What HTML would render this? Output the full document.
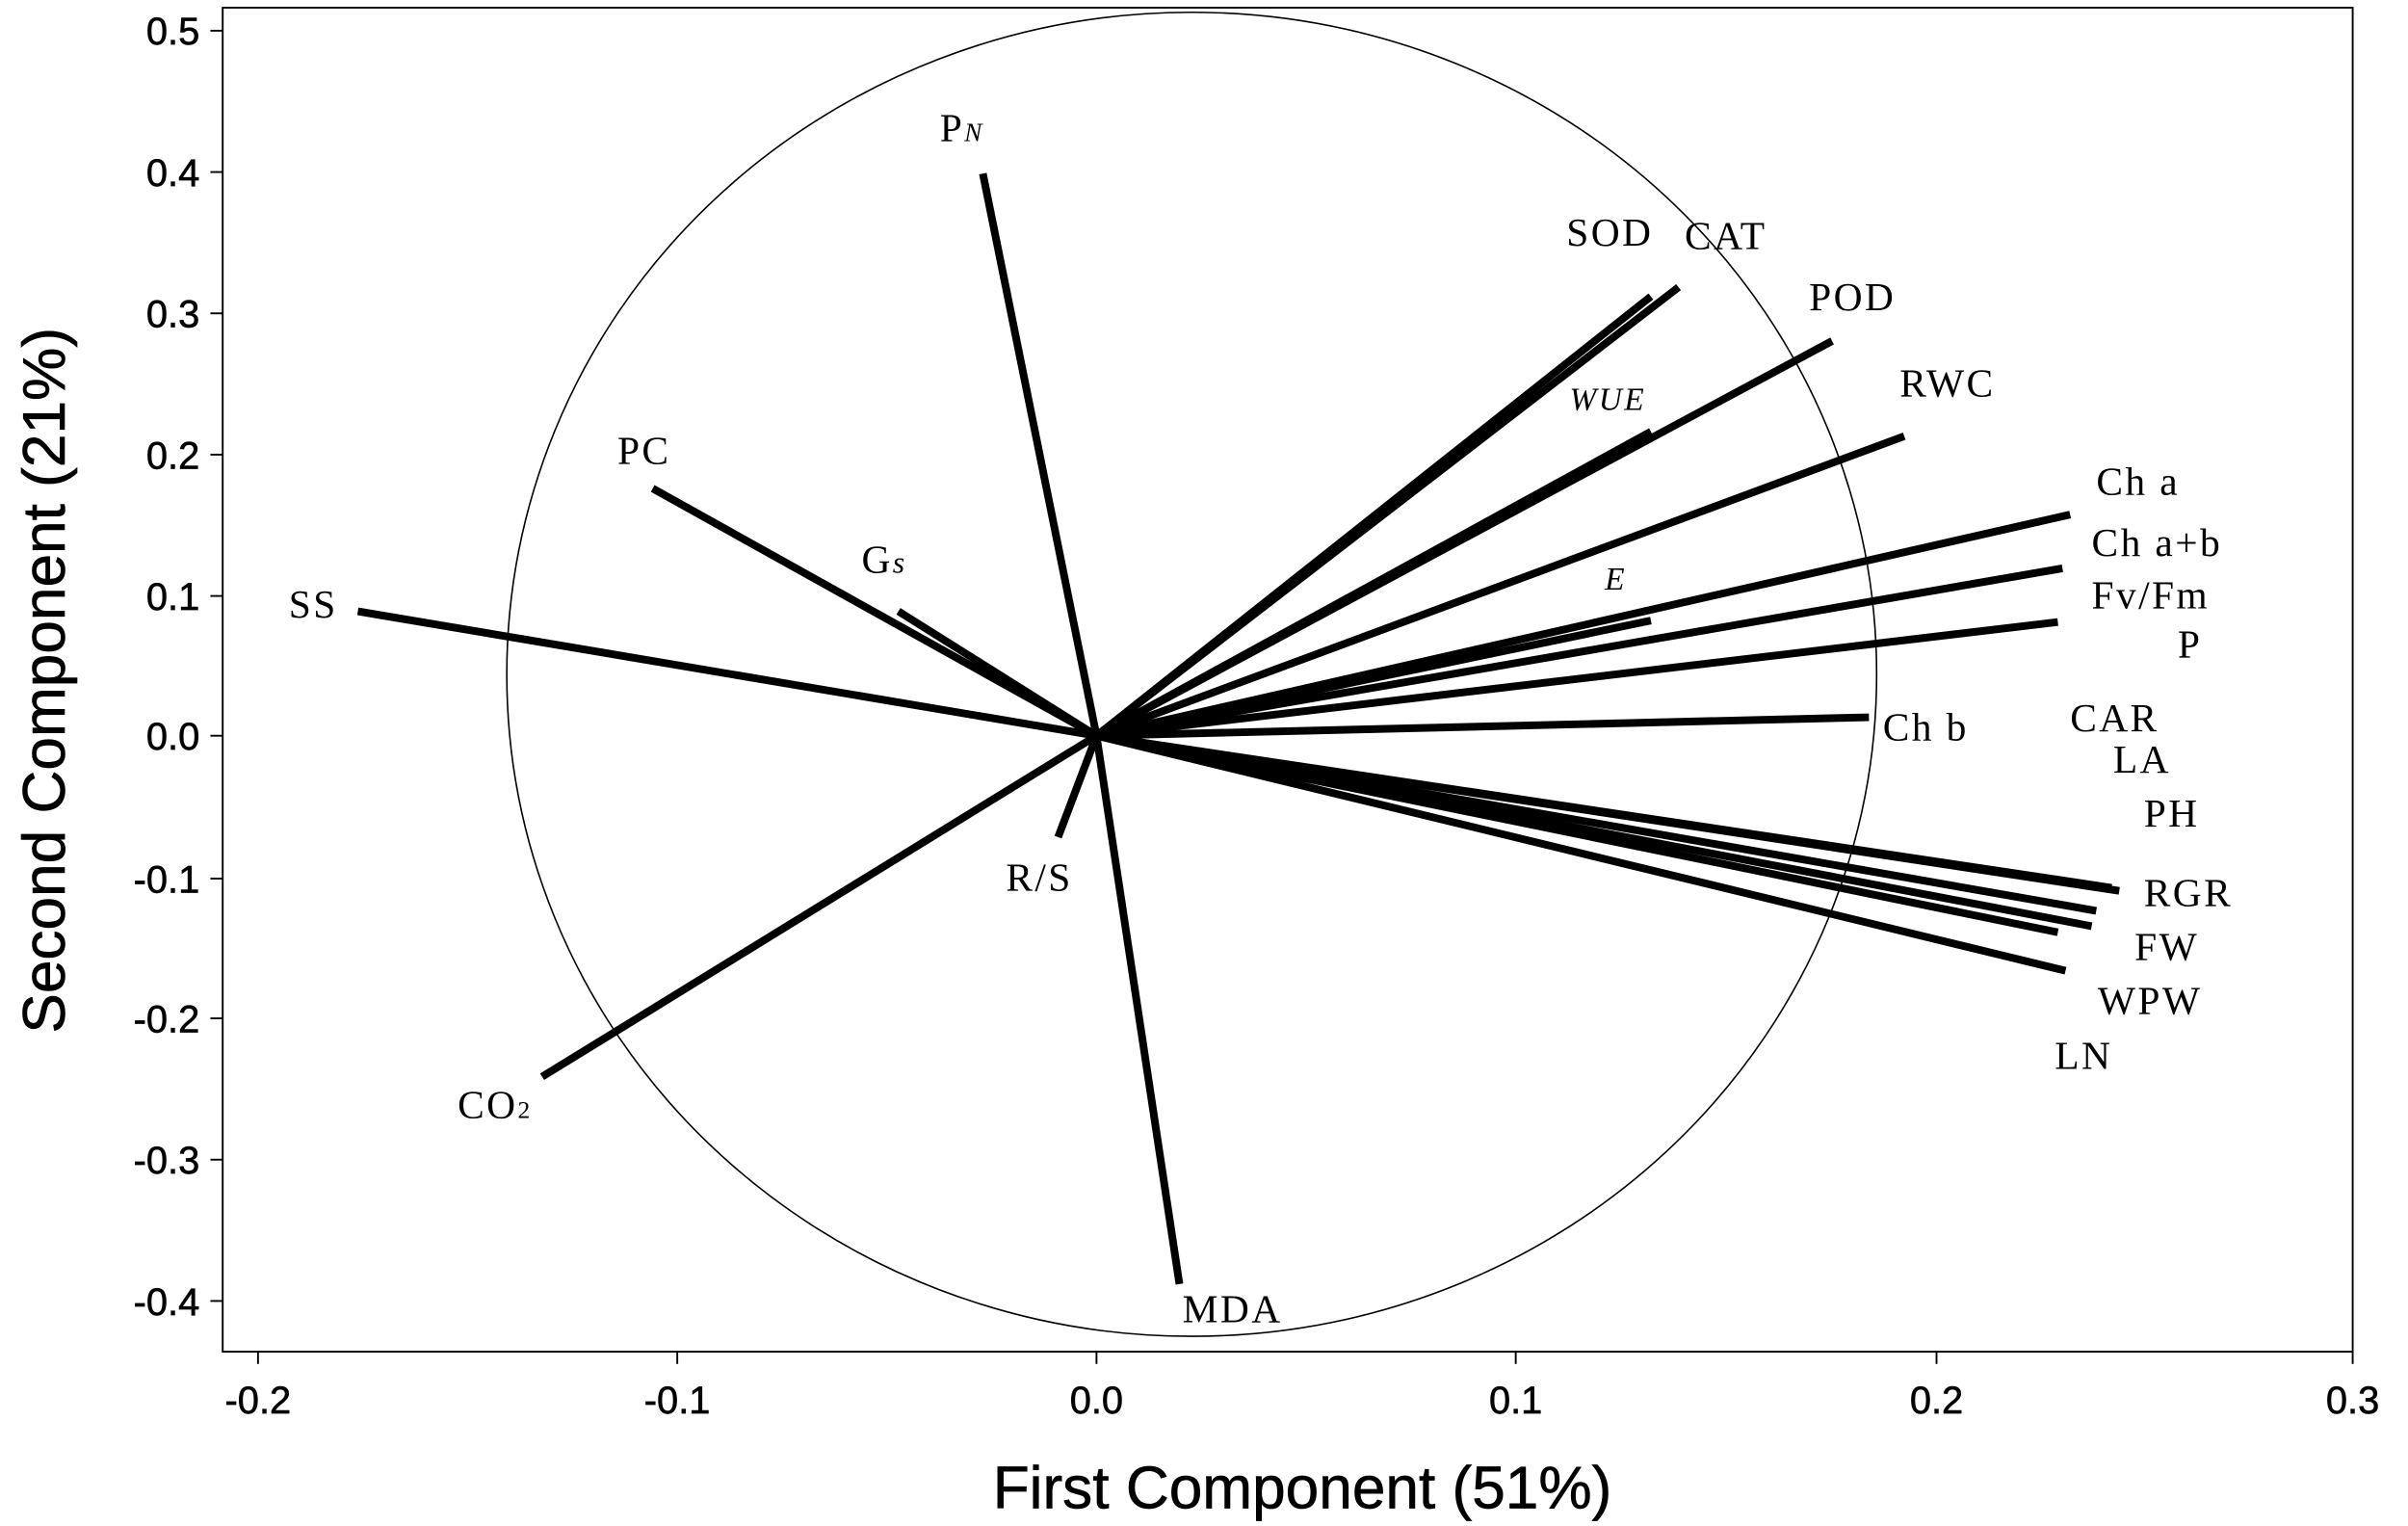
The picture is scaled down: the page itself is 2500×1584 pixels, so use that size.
<!DOCTYPE html>
<html><head><meta charset="utf-8"><style>html,body{margin:0;padding:0;background:#fff}svg{display:block}</style></head>
<body>
<svg width="2500" height="1584" viewBox="0 0 1568 993.5" xmlns="http://www.w3.org/2000/svg">
<rect x="145" y="5" width="1387" height="875" fill="none" stroke="#000" stroke-width="1.2"/>
<ellipse cx="776" cy="439" rx="446" ry="431" fill="none" stroke="#000" stroke-width="1"/>
<g stroke="#000" stroke-width="1.2">
<line x1="168" y1="880" x2="168" y2="888"/><line x1="441" y1="880" x2="441" y2="888"/><line x1="714" y1="880" x2="714" y2="888"/><line x1="987" y1="880" x2="987" y2="888"/><line x1="1261" y1="880" x2="1261" y2="888"/><line x1="1532" y1="880" x2="1532" y2="888"/>
<line x1="137" y1="20" x2="145" y2="20"/><line x1="137" y1="112" x2="145" y2="112"/><line x1="137" y1="204" x2="145" y2="204"/><line x1="137" y1="296" x2="145" y2="296"/><line x1="137" y1="388" x2="145" y2="388"/><line x1="137" y1="479" x2="145" y2="479"/><line x1="137" y1="572" x2="145" y2="572"/><line x1="137" y1="663" x2="145" y2="663"/><line x1="137" y1="755" x2="145" y2="755"/><line x1="137" y1="847" x2="145" y2="847"/>
</g>
<g font-family="Liberation Sans, sans-serif" font-size="25" fill="#000" stroke="#000" stroke-width="0.4">
<g text-anchor="middle"><text x="168" y="920">-0.2</text><text x="441" y="920">-0.1</text><text x="714" y="920">0.0</text><text x="987" y="920">0.1</text><text x="1261" y="920">0.2</text><text x="1532" y="920">0.3</text></g>
<g text-anchor="end"><text x="130" y="29">0.5</text><text x="130" y="121">0.4</text><text x="130" y="213">0.3</text><text x="130" y="305">0.2</text><text x="130" y="397">0.1</text><text x="130" y="488">0.0</text><text x="130" y="581">-0.1</text><text x="130" y="672">-0.2</text><text x="130" y="764">-0.3</text><text x="130" y="856">-0.4</text></g>
<text x="848" y="982" text-anchor="middle" font-size="39">First Component (51%)</text>
<text transform="translate(42,443) rotate(-90)" text-anchor="middle" font-size="39">Second Component (21%)</text>
</g>
<g stroke="#000" stroke-width="5" stroke-linecap="butt">
<line x1="714" y1="479" x2="640" y2="113"/>
<line x1="714" y1="479" x2="1075" y2="193"/>
<line x1="714" y1="479" x2="1093" y2="187"/>
<line x1="714" y1="479" x2="1193" y2="222"/>
<line x1="714" y1="479" x2="1075" y2="281"/>
<line x1="714" y1="479" x2="1240" y2="284"/>
<line x1="714" y1="479" x2="1348" y2="335"/>
<line x1="714" y1="479" x2="1343" y2="370"/>
<line x1="714" y1="479" x2="1340" y2="405"/>
<line x1="714" y1="479" x2="1075" y2="404"/>
<line x1="714" y1="479" x2="1217" y2="467"/>
<line x1="714" y1="479" x2="1380" y2="580"/>
<line x1="714" y1="479" x2="1375" y2="578"/>
<line x1="714" y1="479" x2="1365" y2="593"/>
<line x1="714" y1="479" x2="1362" y2="603"/>
<line x1="714" y1="479" x2="1340" y2="607"/>
<line x1="714" y1="479" x2="1345" y2="632"/>
<line x1="714" y1="479" x2="425" y2="318"/>
<line x1="714" y1="479" x2="585" y2="398"/>
<line x1="714" y1="479" x2="233" y2="398"/>
<line x1="714" y1="479" x2="353" y2="701"/>
<line x1="714" y1="479" x2="689" y2="545"/>
<line x1="714" y1="479" x2="768" y2="836"/>
</g>
<g font-family="Liberation Serif, serif" font-size="26" fill="#000" letter-spacing="1.5">
<text x="612" y="92">P<tspan font-size="17" font-style="italic">N</tspan></text>
<text x="1020" y="160">SOD</text><text x="1097" y="162">CAT</text>
<text x="1178" y="202">POD</text><text x="1237" y="258">RWC</text>
<text x="1022" y="267" font-style="italic" font-size="21">WUE</text>
<text x="1045" y="384" font-style="italic" font-size="21">E</text>
<text x="1365" y="322">Ch a</text><text x="1362" y="362">Ch a+b</text><text x="1362" y="396">Fv/Fm</text><text x="1418" y="428">P</text>
<text x="1226" y="482">Ch b</text><text x="1348" y="476">CAR</text><text x="1376" y="503">LA</text><text x="1396" y="538">PH</text>
<text x="1396" y="590">RGR</text><text x="1390" y="625">FW</text><text x="1366" y="660">WPW</text><text x="1338" y="696">LN</text>
<text x="402" y="302">PC</text><text x="561" y="373">G<tspan font-style="italic" font-size="20">s</tspan></text>
<text x="188" y="402">SS</text>
<text x="298" y="728">CO<tspan font-size="16">2</tspan></text>
<text x="655" y="580">R/S</text><text x="770" y="861">MDA</text>
</g>
</svg>
</body></html>
